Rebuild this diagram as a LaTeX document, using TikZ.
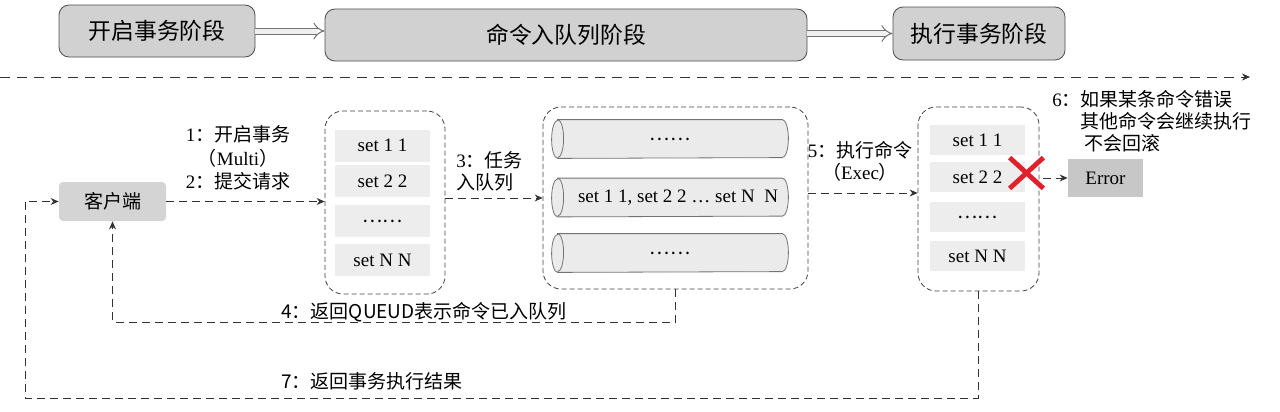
\documentclass[tikz,border=0pt]{standalone}
\usepackage{fontspec}
\setmainfont{Liberation Serif}
\newfontfamily\cjk{Noto Sans CJK SC}
\usetikzlibrary{backgrounds}
\usetikzlibrary{arrows.meta}
\definecolor{xred}{RGB}{224,32,42}

\begin{document}
\begin{tikzpicture}[x=0.5pt,y=-0.5pt,thin]

			\tikzstyle{every node}=[font=\fontsize{9.5}{11}\selectfont, inner sep=0pt]
			\tikzstyle{stage}=[draw=black!70, fill=black!18, rounded corners=5pt, font=\cjk\fontsize{11.4}{13}\selectfont]
			\tikzstyle{grp}=[draw=black!75, dash pattern=on 2.5pt off 1.5pt, rounded corners=9pt]
			\tikzstyle{cmd}=[fill=black!7, minimum width=47.5pt, minimum height=16pt]
			\tikzstyle{pipe}=[minimum width=118pt, minimum height=19pt]
			\tikzstyle{pipeline}=[draw=black!55, fill=black!8]
			\tikzstyle{conn}=[draw=black!80, dash pattern=on 4pt off 2.5pt, -{Stealth[length=4pt,width=3.5pt]}]
			\tikzstyle{phase}=[draw=black!55, double=black!6, double distance=2.5pt, line width=0.5pt, -{Implies}]

			\def\zh{\cjk\fontsize{9.5}{11}\selectfont}
			\def\endcap{arc[start angle=90, end angle=-90, x radius=3pt, y radius=9.5pt]}

			\useasboundingbox (0,0) rectangle (1280,412);

			\node[stage, minimum width=98pt, minimum height=26pt] (open) at (157,31) {开启事务阶段};
			\node[stage, minimum width=241pt, minimum height=26pt] (queue) at (566,35) {命令入队列阶段};
			\node[stage, minimum width=86pt, minimum height=26.5pt] (exec) at (979,33.5) {执行事务阶段};
			\draw[phase] (open.east) -- (open.east -| queue.west);
			\draw[phase] (exec.west -| queue.east) -- (exec.west);

			\coordinate (t0) at (0,77);
			\coordinate (t1) at (1250,77);
			\draw[conn, dash pattern=on 5pt off 3.5pt] (t0) -- (t1);

			\node[fill=black!17, rounded corners=2pt, minimum width=53.5pt, minimum height=19.5pt, font=\zh] (client) at (112.5,201.5) {客户端};

			\node[grp, minimum width=60pt, minimum height=91.5pt] (qa) at (385,202.5) {};
			\node[cmd] (a1) at (382.5,145.5) {set 1 1};
			\node[cmd] (a2) at (382.5,181) {set 2 2};
			\node[cmd, font=\zh] (a3) at (382.5,221) {……};
			\node[cmd] (a4) at (382.5,260) {set N N};

			\node[grp, minimum width=132.5pt, minimum height=91pt] (qb) at (675.5,198) {};
			\node[pipe, font=\zh] (b1) at (670,139) {……};
			\node[pipe] (b2) at (670,197.5) {\hspace{8pt}set 1 1, set 2 2 \ldots\ set N\ \ N};
			\node[pipe, font=\zh] (b3) at (670,253) {……};
			\begin{scope}[on background layer]
			\foreach \p in {b1,b2,b3}{
				\draw[pipeline] ([xshift=3pt]\p.north west) -- ([xshift=-3pt]\p.north east) \endcap -- ([xshift=3pt]\p.south west) arc[start angle=270, end angle=90, x radius=3pt, y radius=9.5pt] -- cycle;
				\draw[pipeline, fill=none] ([xshift=3pt]\p.north west) \endcap;
			}
			\end{scope}

			\node[grp, minimum width=60.5pt, minimum height=92pt] (qc) at (978.5,199) {};
			\node[cmd, minimum height=15pt] (c1) at (977.5,140) {set 1 1};
			\node[cmd, minimum height=15pt] (c2) at (977.5,177) {set 2 2};
			\node[cmd, minimum height=15pt, font=\zh] (c3) at (977.5,217) {……};
			\node[cmd, minimum height=15pt] (c4) at (977.5,256) {set N N};

			\node[minimum width=16.5pt, minimum height=15pt] (xmark) at (1026.5,173) {};
			\draw[xred, line width=2.4pt] (xmark.north west) -- (xmark.south east) (xmark.north east) -- (xmark.south west);
			\node[fill=black!22, minimum width=37.5pt, minimum height=19pt] (err) at (1105.5,178) {Error};

			\node[align=center, font=\fontsize{9.5}{11.75}\selectfont] (l12) at (238,158) {1{\cjk ：开启事务}\\{\cjk （}Multi{\cjk ）}\\2{\cjk ：提交请求}};
			\node[align=left, anchor=west] (l3) at (456,171) {3{\cjk ：任务}\\{\cjk 入队列}};
			\node[align=center] (l5) at (860,161.5) {5{\cjk ：执行命令}\\{\cjk （}Exec{\cjk ）}};
			\node[align=left, anchor=north west] (l6) at (1052,90) {6{\cjk ：如果某条命令错误}\\\phantom{6{\cjk ：}}{\cjk 其他命令会继续执行}\\\phantom{6{\cjk ：}}\,{\cjk 不会回滚}};
			\node[anchor=west, font=\zh] (l4) at (281,312) {4：返回QUEUD表示命令已入队列};
			\node[anchor=west, font=\zh] (l7) at (281,381) {7：返回事务执行结果};

			\draw[conn] (client) -- (client -| qa.west);
			\draw[conn] (qa.east |- qb) -- (qb.west);
			\draw[conn] ([yshift=2.5pt]qb.east) -- ([yshift=2.5pt]qb.east -| qc.west);
			\draw[conn] (err.west -| xmark.east) -- (err.west);
			\draw[conn] (qb.south) -- ++(0,33) -| (client.south);
			\coordinate (ret) at (25,398);
			\draw[conn] (qc.south) |- (ret) |- (client.west);
			\end{tikzpicture}
\end{document}
